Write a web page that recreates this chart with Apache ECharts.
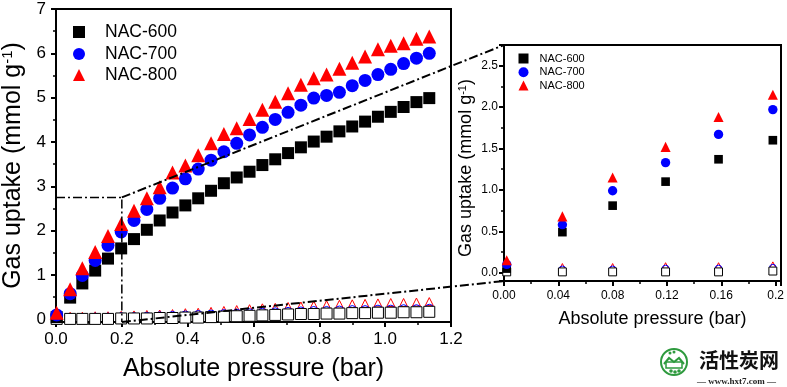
<!DOCTYPE html>
<html><head><meta charset="utf-8">
<script src="https://cdn.jsdelivr.net/npm/echarts@6/dist/echarts.min.js"></script>
<style>html,body{margin:0;padding:0;background:#fff}#c{width:787px;height:387px}</style>
</head><body><div id="c"></div><script>
// ---- data ----
const pressure = [0.002, 0.043, 0.080, 0.119, 0.158, 0.198, 0.237, 0.276, 0.315, 0.354, 0.393, 0.432, 0.471, 0.510, 0.549, 0.588, 0.627, 0.666, 0.705, 0.744, 0.783, 0.822, 0.861, 0.900, 0.939, 0.978, 1.017, 1.056, 1.095, 1.134];
const co2_600 = [0.05, 0.49, 0.81, 1.10, 1.37, 1.60, 1.81, 2.02, 2.23, 2.41, 2.57, 2.73, 2.90, 3.07, 3.20, 3.33, 3.48, 3.61, 3.75, 3.88, 4.01, 4.12, 4.24, 4.35, 4.46, 4.57, 4.68, 4.79, 4.90, 4.99];
const co2_700 = [0.10, 0.58, 0.99, 1.33, 1.67, 1.97, 2.23, 2.48, 2.73, 2.96, 3.17, 3.39, 3.59, 3.78, 3.97, 4.16, 4.33, 4.51, 4.67, 4.83, 4.99, 5.05, 5.12, 5.27, 5.39, 5.52, 5.64, 5.77, 5.89, 6.00];
const co2_800 = [0.15, 0.68, 1.15, 1.52, 1.88, 2.15, 2.45, 2.73, 2.98, 3.31, 3.47, 3.70, 3.97, 4.18, 4.31, 4.52, 4.73, 4.91, 5.10, 5.29, 5.44, 5.52, 5.65, 5.79, 5.93, 6.09, 6.17, 6.23, 6.33, 6.38];
const n2_600 = [0.01, 0.01, 0.01, 0.01, 0.01, 0.02, 0.02, 0.02, 0.03, 0.03, 0.04, 0.04, 0.05, 0.06, 0.07, 0.08, 0.09, 0.10, 0.11, 0.12, 0.12, 0.13, 0.13, 0.14, 0.14, 0.15, 0.15, 0.16, 0.16, 0.17];
const n2_700 = [0.08, 0.04, 0.04, 0.05, 0.05, 0.06, 0.06, 0.07, 0.08, 0.09, 0.10, 0.11, 0.12, 0.13, 0.14, 0.15, 0.16, 0.17, 0.18, 0.19, 0.20, 0.20, 0.21, 0.22, 0.22, 0.23, 0.23, 0.24, 0.24, 0.25];
const n2_800 = [0.12, 0.07, 0.07, 0.08, 0.08, 0.09, 0.10, 0.11, 0.12, 0.13, 0.15, 0.16, 0.18, 0.20, 0.22, 0.24, 0.26, 0.27, 0.29, 0.30, 0.32, 0.33, 0.34, 0.35, 0.36, 0.37, 0.38, 0.38, 0.39, 0.40];
const seriesNames = ['NAC-600', 'NAC-700', 'NAC-800'];
const zoomBoxX = [0, 0.2];
const zoomBoxY = [-0.1, 2.75];
const insetCount = 6;
// --------------------------------------

const FF = '"Liberation Sans", Arial, sans-serif';
const pairs = (arr, n) => pressure.slice(0, n || pressure.length).map((x, i) => [x, arr[i]]);
const BLACK = '#000', BLUE = '#0000ff', RED = '#ff0000';

function axisCommon(fs) {
  return {
    axisLine: { onZero: false, lineStyle: { color: BLACK, width: 2 } },
    axisTick: { inside: false, length: 5, lineStyle: { color: BLACK, width: 2 } },
    minorTick: { show: true, splitNumber: 2, length: 3, lineStyle: { color: BLACK, width: 1.5 } },
    splitLine: { show: false },
    axisLabel: { fontSize: fs, color: BLACK, fontFamily: FF }
  };
}

function groupSeries(gi, n, big) {
  const s = [];
  const sc = big ? 1 : 0.72;
  s.push({ name: 'n2-800', type: 'scatter', xAxisIndex: gi, yAxisIndex: gi, data: pairs(n2_800, n), symbol: 'triangle', symbolSize: 8 * sc + (big ? 0 : 1), itemStyle: { color: 'rgba(0,0,0,0)', borderColor: RED, borderWidth: 1, opacity: 1 }, z: 2, silent: true });
  s.push({ name: 'n2-700', type: 'scatter', xAxisIndex: gi, yAxisIndex: gi, data: pairs(n2_700, n), symbol: 'circle', symbolSize: 8 * sc + (big ? 0 : 1), itemStyle: { color: 'rgba(0,0,0,0)', borderColor: BLUE, borderWidth: 1, opacity: 1 }, z: 3, silent: true });
  s.push({ name: 'n2-600', type: 'scatter', xAxisIndex: gi, yAxisIndex: gi, data: pairs(n2_600, n), symbol: 'rect', symbolSize: 11 * sc, itemStyle: { color: '#fff', borderColor: BLACK, borderWidth: 1, opacity: 1 }, z: 4, silent: true });
  s.push({ name: seriesNames[0], type: 'scatter', xAxisIndex: gi, yAxisIndex: gi, data: pairs(co2_600, n), symbol: 'rect', symbolSize: 12 * sc, itemStyle: { color: BLACK, opacity: 1 }, z: 5 });
  s.push({ name: seriesNames[1], type: 'scatter', xAxisIndex: gi, yAxisIndex: gi, data: pairs(co2_700, n), symbol: 'circle', symbolSize: 13 * sc, itemStyle: { color: BLUE, opacity: 1 }, z: 6 });
  s.push({ name: seriesNames[2], type: 'scatter', xAxisIndex: gi, yAxisIndex: gi, data: pairs(co2_800, n), symbol: 'triangle', symbolSize: 14 * sc, itemStyle: { color: RED, opacity: 1 }, z: 7 });
  return s;
}

const chart = echarts.init(document.getElementById('c'), null, { renderer: 'canvas' });
const DASHDOT = [9, 3, 2, 3];

// one legend component per row so rows sit exactly where the reference has them
const mainLegendTops = [23, 45, 66];
const insetLegendTops = [53, 66.7, 80];
const legends = [];
seriesNames.forEach((nm, i) => {
  legends.push({ data: [nm], left: 73, top: mainLegendTops[i], padding: 0, itemWidth: 12, itemHeight: 12,
    textStyle: { fontSize: 17.5, color: BLACK, fontFamily: FF, padding: [0, 0, 0, 15] }, selectedMode: false });
  legends.push({ data: [nm], left: 518.5, top: insetLegendTops[i], padding: 0, itemWidth: 10, itemHeight: 10,
    textStyle: { fontSize: 11, color: BLACK, fontFamily: FF, padding: [0, 0, 0, 6] }, selectedMode: false });
});

const option = {
  animation: false,
  backgroundColor: '#fff',
  textStyle: { fontFamily: FF },
  grid: [
    { left: 56, right: 336, top: 9, bottom: 65, show: true, borderColor: BLACK, borderWidth: 2, backgroundColor: 'rgba(0,0,0,0)', containLabel: false, outerBoundsMode: 'none' },
    { left: 504, right: 6, top: 45, bottom: 106, show: true, borderColor: BLACK, borderWidth: 2, backgroundColor: 'rgba(0,0,0,0)', containLabel: false, outerBoundsMode: 'none' }
  ],
  xAxis: [
    Object.assign(axisCommon(17), {
      gridIndex: 0, type: 'value', min: 0, max: 1.2, interval: 0.2,
      name: 'Absolute pressure (bar)', nameLocation: 'middle', nameGap: 35,
      nameTextStyle: { fontSize: 25, color: BLACK, fontFamily: FF }
    }),
    Object.assign(axisCommon(12), {
      gridIndex: 1, type: 'value', min: 0, max: 0.204, interval: 0.04,
      name: 'Absolute pressure (bar)', nameLocation: 'middle', nameGap: 29,
      nameTextStyle: { fontSize: 18, color: BLACK, fontFamily: FF, padding: [0, 0, 0, 20] }
    })
  ],
  yAxis: [
    Object.assign(axisCommon(17), {
      gridIndex: 0, type: 'value', min: -0.06, max: 7, splitNumber: 7,
      name: 'Gas uptake (mmol g{sup|-1})', nameLocation: 'middle', nameGap: 22,
      nameTextStyle: { fontSize: 25, color: BLACK, fontFamily: FF, rich: { sup: { fontSize: 15, fontFamily: FF, color: BLACK, verticalAlign: 'top', padding: [0, 0, 10, 0] } } }
    }),
    Object.assign(axisCommon(12), {
      gridIndex: 1, type: 'value', min: zoomBoxY[0], max: zoomBoxY[1], splitNumber: 6,
      name: 'Gas uptake (mmol g{sup|-1})', nameLocation: 'middle', nameGap: 29,
      nameTextStyle: { fontSize: 18, color: BLACK, fontFamily: FF, padding: [0, 10, 0, 0], rich: { sup: { fontSize: 11, fontFamily: FF, color: BLACK, verticalAlign: 'top', padding: [0, 0, 7, 0] } } }
    })
  ],
  legend: legends,
  series: [
    { name: 'zoombox', type: 'line', xAxisIndex: 0, yAxisIndex: 0, silent: true, symbol: 'none', z: 10,
      data: [[zoomBoxX[0], zoomBoxY[1]], [zoomBoxX[1], zoomBoxY[1]], [zoomBoxX[1], -0.06]],
      lineStyle: { color: BLACK, width: 1.5, type: DASHDOT } }
  ].concat(groupSeries(0, pressure.length, true), groupSeries(1, insetCount, false))
};

option.xAxis[0].axisLabel.formatter = v => v.toFixed(1);
option.xAxis[0].axisLabel.margin = 9;
option.yAxis[0].axisLabel.formatter = v => String(Math.round(v));
option.yAxis[0].axisLabel.showMinLabel = false;
option.yAxis[0].axisLabel.margin = 10;
option.xAxis[1].axisLabel.formatter = v => Math.abs(v - 0.2) < 1e-9 ? '0.2' : v.toFixed(2);
option.xAxis[1].axisLabel.showMaxLabel = false;
option.xAxis[1].axisLabel.margin = 9;
option.yAxis[1].axisLabel.formatter = v => v.toFixed(1);
option.yAxis[1].axisLabel.showMinLabel = false;
option.yAxis[1].axisLabel.showMaxLabel = false;
option.yAxis[1].axisLabel.margin = 6;

chart.setOption(option);

const pTop = chart.convertToPixel({ gridIndex: 0 }, [zoomBoxX[1], zoomBoxY[1]]);
const pBot = chart.convertToPixel({ gridIndex: 0 }, [zoomBoxX[1], -0.06]);
const qTop = chart.convertToPixel({ gridIndex: 1 }, [0, zoomBoxY[1]]);
const qBot = chart.convertToPixel({ gridIndex: 1 }, [0, zoomBoxY[0]]);

const GREEN = '#2e9a3e';
chart.setOption({
  graphic: [
    { type: 'line', z: 20, silent: true, shape: { x1: pTop[0], y1: pTop[1], x2: qTop[0], y2: qTop[1] }, style: { stroke: BLACK, lineWidth: 2, lineDash: DASHDOT } },
    { type: 'line', z: 20, silent: true, shape: { x1: pBot[0], y1: pBot[1], x2: qBot[0], y2: qBot[1] }, style: { stroke: BLACK, lineWidth: 2, lineDash: DASHDOT } },
    { type: 'group', left: 660, top: 348, silent: true, children: [
      { type: 'circle', shape: { cx: 15, cy: 15, r: 13 }, style: { fill: '#fff', stroke: GREEN, lineWidth: 2 } },
      { type: 'polyline', shape: { points: [[5, 17], [10, 11], [15, 15], [20, 11], [25, 17]] }, style: { fill: 'none', stroke: GREEN, lineWidth: 2 } },
      { type: 'rect', shape: { x: 7, y: 15, width: 16, height: 6 }, style: { fill: 'none', stroke: GREEN, lineWidth: 1.5 } },
      { type: 'circle', shape: { cx: 11, cy: 6, r: 1.5 }, style: { fill: GREEN } },
      { type: 'circle', shape: { cx: 15, cy: 5, r: 1.5 }, style: { fill: GREEN } },
      { type: 'circle', shape: { cx: 12, cy: 24, r: 1.8 }, style: { fill: GREEN } },
      { type: 'circle', shape: { cx: 16, cy: 25, r: 1.8 }, style: { fill: GREEN } },
      { type: 'circle', shape: { cx: 20, cy: 24, r: 1.8 }, style: { fill: GREEN } }
    ] },
    { type: 'text', left: 699, top: 350, silent: true, style: { text: '活性炭网', fontSize: 20, fontWeight: 'bold', fill: '#111', fontFamily: '"Noto Sans CJK SC", sans-serif' } },
    { type: 'text', left: 697, top: 377, silent: true, style: { text: '— www.hxt7.com —', fontSize: 9, fontWeight: 'bold', fill: '#222', fontFamily: '"Liberation Serif", serif' } }
  ]
});
</script></body></html>
